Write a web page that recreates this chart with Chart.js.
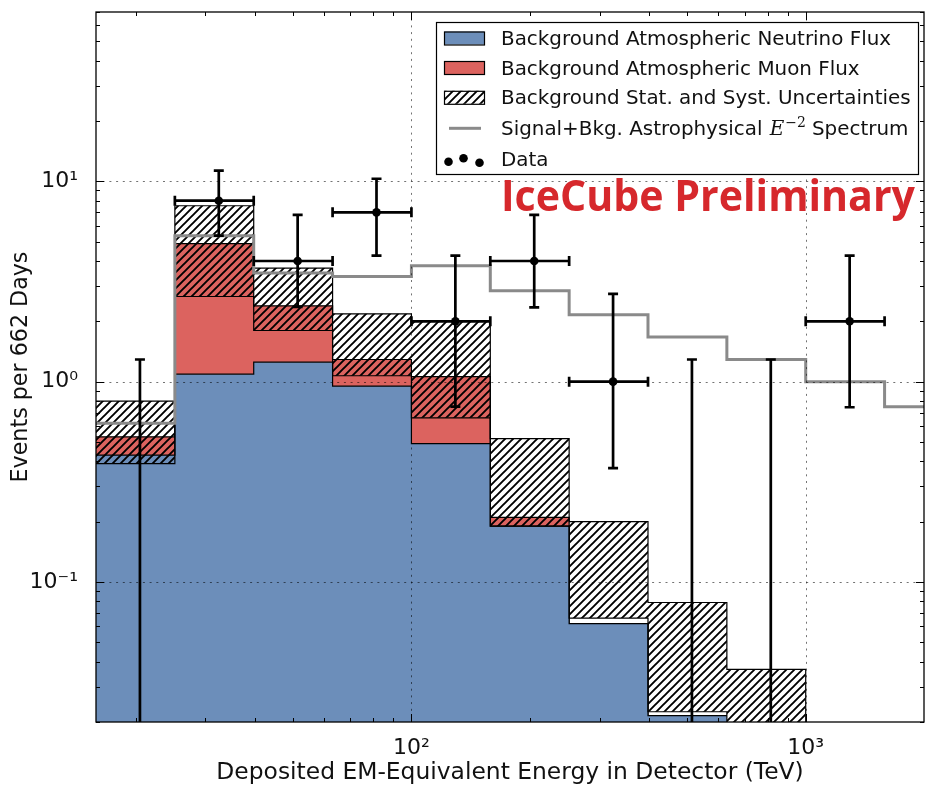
<!DOCTYPE html>
<html>
<head>
<meta charset="utf-8">
<title>Deposited energy spectrum</title>
<script src="https://cdn.jsdelivr.net/npm/chart.js@4.4.1/dist/chart.umd.min.js"></script>
<style>
  html, body { margin: 0; padding: 0; background: #fff; }
  #wrap { width: 926px; height: 787px; }
</style>
</head>
<body>
<div id="wrap"><canvas id="spectrum" width="926" height="787"></canvas></div>
<script>
// energy bin edges in TeV (0.2 decade wide)
const binEdges = [15.85, 25.12, 39.81, 63.10, 100, 158.5, 251.2, 398.1, 631.0, 1000, 1585, 2512];

// expected background events per bin
const neutrinoFlux = [0.43, 1.09, 1.25, 0.95, 0.49, 0.19, 0.062, 0.0215];
const muonFlux     = [0.10, 3.80, 1.14, 0.34, 0.57, 0.02, 0, 0];

// background uncertainty band (lower / upper edge)
const bkgLow  = [0.39, 2.66, 1.80, 1.07, 0.66, 0.19, 0.066, 0.0225, 0.012];
const bkgHigh = [0.80, 7.55, 3.69, 2.18, 2.00, 0.52, 0.20, 0.079, 0.0366];

// signal + background, E^-2 astrophysical spectrum
const signalPlusBkg = [0.62, 5.35, 3.49, 3.35, 3.79, 2.84, 2.16, 1.67, 1.29, 1.00, 0.75];

// observed events and their 68% intervals
const dataCounts = [0, 8, 4, 7, 2, 4, 1, 0, 0, 2];
const dataLow    = [0, 5.35, 2.36, 4.26, 0.75, 2.35, 0.37, 0, 0, 0.745];
const dataHigh   = [1.29, 11.3, 6.8, 10.3, 4.26, 6.8, 2.74, 1.29, 1.29, 4.26];

// axis ticks
const xTickValues = [100, 1000];
const xTickLabels = ['10\u00b2', '10\u00b3'];
const yTickValues = [0.1, 1, 10];
const yTickLabels = ['10\u207b\u00b9', '10\u2070', '10\u00b9'];

const X_MIN = 15.849, X_MAX = 1995.3, Y_MIN = 0.02, Y_MAX = 70;

const BLUE = '#6c8eba';
const RED = '#dc635f';
const GREY = '#8a8a8a';

Chart.defaults.font.family = '"DejaVu Sans", sans-serif';
Chart.defaults.color = '#111';

// "////" hatch
function makeHatch() {
    const s = 8;
    const c = document.createElement('canvas');
    c.width = s; c.height = s;
    const g = c.getContext('2d');
    g.strokeStyle = '#000';
    g.lineWidth = 1.9;
    g.beginPath();
    g.moveTo(-2, s + 2); g.lineTo(s + 2, -2);
    g.moveTo(-2, 2); g.lineTo(2, -2);
    g.moveTo(s - 2, s + 2); g.lineTo(s + 2, s - 2);
    g.stroke();
    return g.createPattern(c, 'repeat');
}
const hatch = makeHatch();

// histogram outline: one point per left edge, plus the last right edge
function steps(values, closeTo) {
    const pts = values.map((v, i) => ({x: binEdges[i], y: v}));
    pts.push({x: binEdges[values.length], y: values[values.length - 1]});
    if (closeTo !== undefined) pts.push({x: binEdges[values.length], y: closeTo});
    return pts;
}

const bkgTotal = neutrinoFlux.map((v, i) => v + muonFlux[i]);
const lastLow = bkgLow[bkgLow.length - 1];

const dataPoints = dataCounts.map((n, i) => ({
    x: (binEdges[i] + binEdges[i + 1]) / 2,
    y: n > 0 ? n : null
}));

const histLine = {
    type: 'line', stepped: true, pointRadius: 0, borderWidth: 1.2,
    borderColor: '#000', clip: 0
};

function tickLabel(values, labels) {
    return v => {
        const i = values.findIndex(t => Math.abs(Math.log10(v) - Math.log10(t)) < 1e-6);
        return i < 0 ? '' : labels[i];
    };
}

function minorTicks(min, max) {
    const out = [];
    for (let e = Math.floor(Math.log10(min)); e <= Math.ceil(Math.log10(max)); e++) {
        for (let m = 1; m < 10; m++) {
            const v = m * Math.pow(10, e);
            if (v >= min * 0.999 && v <= max * 1.001) out.push({v, major: m === 1});
        }
    }
    return out;
}

// keep the plot box fixed: no extra room for edge labels
function fixBox(size, vertical) {
    return s => {
        if (vertical) s.width = size; else s.height = size;
        s.paddingTop = 0; s.paddingBottom = 0;
        s.paddingLeft = 0; s.paddingRight = 0;
    };
}

// error bars, grid, inward ticks, frame, legend
const frameAndErrors = {
    id: 'frameAndErrors',
    afterDatasetsDraw(chart) {
        const {ctx, chartArea: a, scales: {x, y}} = chart;
        ctx.save();
        ctx.beginPath();
        ctx.rect(a.left, a.top, a.right - a.left, a.bottom - a.top);
        ctx.clip();

        // dotted grid at the decades
        ctx.strokeStyle = 'rgba(0,0,0,0.55)';
        ctx.lineWidth = 1;
        ctx.setLineDash([2, 4.7]);
        ctx.beginPath();
        yTickValues.forEach(v => {
            const py = Math.round(y.getPixelForValue(v)) + 0.5;
            ctx.moveTo(a.left, py); ctx.lineTo(a.right, py);
        });
        xTickValues.forEach(v => {
            const px = Math.round(x.getPixelForValue(v)) + 0.5;
            ctx.moveTo(px, a.top); ctx.lineTo(px, a.bottom);
        });
        ctx.stroke();
        ctx.setLineDash([]);

        // data error bars
        ctx.strokeStyle = '#000';
        ctx.lineWidth = 2.7;
        const cap = 5;
        dataCounts.forEach((n, i) => {
            const px = x.getPixelForValue(dataPoints[i].x);
            const top = y.getPixelForValue(dataHigh[i]);
            const bot = n > 0 ? y.getPixelForValue(dataLow[i]) : a.bottom + 5;
            ctx.beginPath();
            ctx.moveTo(px, top); ctx.lineTo(px, bot);
            ctx.moveTo(px - cap, top); ctx.lineTo(px + cap, top);
            if (n > 0) {
                ctx.moveTo(px - cap, bot); ctx.lineTo(px + cap, bot);
                const py = y.getPixelForValue(n);
                const x0 = x.getPixelForValue(binEdges[i]);
                const x1 = x.getPixelForValue(binEdges[i + 1]);
                ctx.moveTo(x0, py); ctx.lineTo(x1, py);
                ctx.moveTo(x0, py - cap); ctx.lineTo(x0, py + cap);
                ctx.moveTo(x1, py - cap); ctx.lineTo(x1, py + cap);
            }
            ctx.stroke();
        });
        ctx.restore();

        // inward ticks on all four sides
        ctx.save();
        ctx.strokeStyle = '#000';
        ctx.lineWidth = 1;
        ctx.beginPath();
        minorTicks(X_MIN, X_MAX).forEach(t => {
            const px = Math.round(x.getPixelForValue(t.v)) + 0.5;
            const len = t.major ? 8 : 4;
            ctx.moveTo(px, a.bottom); ctx.lineTo(px, a.bottom - len);
            ctx.moveTo(px, a.top); ctx.lineTo(px, a.top + len);
        });
        minorTicks(Y_MIN, Y_MAX).forEach(t => {
            const py = Math.round(y.getPixelForValue(t.v)) + 0.5;
            const len = t.major ? 8 : 4;
            ctx.moveTo(a.left, py); ctx.lineTo(a.left + len, py);
            ctx.moveTo(a.right, py); ctx.lineTo(a.right - len, py);
        });
        ctx.stroke();
        ctx.lineWidth = 1.3;
        ctx.strokeRect(a.left, a.top, a.right - a.left, a.bottom - a.top);
        ctx.restore();
    },
    afterDraw(chart) {
        const ctx = chart.ctx;
        ctx.save();

        // legend box
        const lx = 436, ly = 22, lw = 482, lh = 152;
        ctx.fillStyle = '#fff';
        ctx.fillRect(lx, ly, lw, lh);
        ctx.strokeStyle = '#000';
        ctx.lineWidth = 1.2;
        ctx.strokeRect(lx + 0.5, ly + 0.5, lw, lh);

        const base = [45, 74.5, 104.3, 135, 165.5];
        const patchY = b => b - 13.5;
        ctx.fillStyle = BLUE;
        ctx.fillRect(444, patchY(base[0]), 40, 13);
        ctx.strokeRect(444.5, patchY(base[0]) + 0.5, 40, 13);
        ctx.fillStyle = RED;
        ctx.fillRect(444, patchY(base[1]), 40, 13);
        ctx.strokeRect(444.5, patchY(base[1]) + 0.5, 40, 13);
        ctx.fillStyle = hatch;
        ctx.fillRect(444, patchY(base[2]), 40, 13);
        ctx.strokeRect(444.5, patchY(base[2]) + 0.5, 40, 13);

        ctx.strokeStyle = GREY;
        ctx.lineWidth = 3;
        ctx.beginPath();
        ctx.moveTo(449, base[3] - 6.7); ctx.lineTo(481, base[3] - 6.7);
        ctx.stroke();

        ctx.fillStyle = '#000';
        [[448.5, 3.8], [463.5, 7.2], [479.5, 2.8]].forEach(([dx, up]) => {
            ctx.beginPath();
            ctx.arc(dx, base[4] - up, 4.3, 0, Math.PI * 2);
            ctx.fill();
        });

        ctx.fillStyle = '#111';
        ctx.textBaseline = 'alphabetic';
        ctx.textAlign = 'left';
        const body = '19.9px "DejaVu Sans"';
        ctx.font = body;
        ctx.fillText('Background Atmospheric Neutrino Flux', 501, base[0]);
        ctx.fillText('Background Atmospheric Muon Flux', 501, base[1]);
        ctx.fillText('Background Stat. and Syst. Uncertainties', 501, base[2]);
        let tx = 501;
        const head = 'Signal+Bkg. Astrophysical ';
        ctx.fillText(head, tx, base[3]);
        tx += ctx.measureText(head).width + 1;
        ctx.font = 'italic 20px "DejaVu Serif"';
        ctx.fillText('E', tx, base[3]);
        tx += ctx.measureText('E').width + 1;
        ctx.font = '14px "DejaVu Serif"';
        ctx.fillText('\u22122', tx, base[3] - 8);
        tx += ctx.measureText('\u22122').width + 6;
        ctx.font = body;
        ctx.fillText('Spectrum', tx, base[3]);
        ctx.fillText('Data', 501, base[4]);

        // preliminary label
        ctx.font = 'bold 43px "Open Sans"';
        ctx.fillStyle = '#d6282c';
        const label = 'IceCube Preliminary';
        const w = ctx.measureText(label).width;
        ctx.translate(501, 211);
        ctx.scale(414 / w, 1);
        ctx.fillText(label, 0, 0);
        ctx.restore();
    }
};

new Chart(document.getElementById('spectrum'), {
    type: 'line',
    data: {
        datasets: [
            Object.assign({}, histLine, {
                label: 'Background Atmospheric Neutrino Flux',
                data: steps(neutrinoFlux), backgroundColor: BLUE, fill: 'start', order: 4
            }),
            Object.assign({}, histLine, {
                label: 'Background Atmospheric Muon Flux',
                data: steps(bkgTotal), backgroundColor: RED, fill: '-1', order: 5
            }),
            Object.assign({}, histLine, {
                label: 'uncertainty low',
                data: steps(bkgLow, lastLow), fill: false, order: 2
            }),
            Object.assign({}, histLine, {
                label: 'Background Stat. and Syst. Uncertainties',
                data: steps(bkgHigh, lastLow), backgroundColor: hatch, fill: '-1', order: 3
            }),
            Object.assign({}, histLine, {
                label: 'Signal+Bkg. Astrophysical E^-2 Spectrum',
                data: steps(signalPlusBkg), borderColor: GREY, borderWidth: 3, fill: false, order: 1
            }),
            {
                type: 'line', label: 'Data', data: dataPoints, showLine: false,
                pointRadius: 4.3, pointBackgroundColor: '#000', pointBorderColor: '#000',
                pointBorderWidth: 0, clip: 0, order: 0
            }
        ]
    },
    options: {
        responsive: false,
        maintainAspectRatio: false,
        devicePixelRatio: 1,
        animation: false,
        events: [],
        layout: {autoPadding: false, padding: {top: 12, right: 2, left: 0, bottom: 0}},
        plugins: {legend: {display: false}, tooltip: {enabled: false}},
        scales: {
            x: {
                type: 'logarithmic', min: X_MIN, max: X_MAX,
                afterBuildTicks: s => { s.ticks = xTickValues.map(v => ({value: v})); },
                afterFit: fixBox(65, false),
                grid: {display: false}, border: {display: false},
                ticks: {autoSkip: false, maxRotation: 0, padding: 5, font: {size: 22},
                        callback: tickLabel(xTickValues, xTickLabels)},
                title: {display: true, text: 'Deposited EM-Equivalent Energy in Detector (TeV)',
                        font: {size: 23.4}, padding: {top: 0, bottom: 0}}
            },
            y: {
                type: 'logarithmic', min: Y_MIN, max: Y_MAX,
                afterBuildTicks: s => { s.ticks = yTickValues.map(v => ({value: v})); },
                afterFit: fixBox(96, true),
                grid: {display: false}, border: {display: false},
                ticks: {autoSkip: false, padding: 10, font: {size: 22},
                        callback: tickLabel(yTickValues, yTickLabels)},
                title: {display: true, text: 'Events per 662 Days',
                        font: {size: 22.2}, padding: {top: 8, bottom: 0}}
            }
        }
    },
    plugins: [frameAndErrors]
});
</script>
</body>
</html>
